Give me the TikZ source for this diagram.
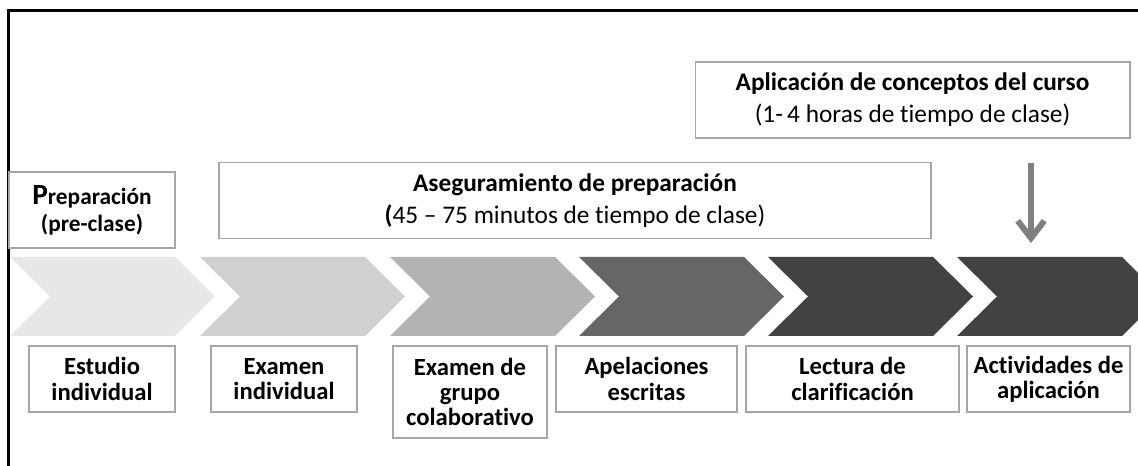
\documentclass[tikz,border=0pt]{standalone}
\usepackage{fontspec}
\setmainfont{Carlito}[Ligatures=NoCommon]
\usepackage{tikz}
\usetikzlibrary{arrows.meta}

\definecolor{chevA}{HTML}{E7E7E7}
\definecolor{chevB}{HTML}{D0D0D0}
\definecolor{chevC}{HTML}{B3B3B3}
\definecolor{chevD}{HTML}{666666}
\definecolor{chevE}{HTML}{424242}
\definecolor{boxgray}{HTML}{A6A6A6}
\definecolor{arrowgray}{HTML}{808080}

\begin{document}
\begin{tikzpicture}[x=0.75pt,y=-0.75pt,
  boxline/.style={draw=boxgray,line width=1pt,fill=white,align=center,inner sep=0pt},
  steplbl/.style={boxline,font=\bfseries\fontsize{18.5}{19}\selectfont,minimum height=49.5pt},
  phase/.style={boxline,font=\fontsize{19}{24}\selectfont,minimum height=57pt}]
\useasboundingbox (0,0) rectangle (1138,466);
\fill[white] (0,0) rectangle (1138,466);
\draw[black,line width=2.25pt] (8,466) -- (8,11) -- (1138,11);

% chevrons
\fill[chevA] (10,257) -- (175,257) -- (215,296.5) -- (175,336) -- (10,336) -- (50,296.5) -- cycle;
\fill[chevB] (200,257) -- (365,257) -- (405,296.5) -- (365,336) -- (200,336) -- (240,296.5) -- cycle;
\fill[chevC] (390,257) -- (555,257) -- (595,296.5) -- (555,336) -- (390,336) -- (430,296.5) -- cycle;
\fill[chevD] (579,257) -- (744,257) -- (784,296.5) -- (744,336) -- (579,336) -- (619,296.5) -- cycle;
\fill[chevE] (768,257) -- (933,257) -- (973,296.5) -- (933,336) -- (768,336) -- (808,296.5) -- cycle;
\fill[chevE] (957,257) -- (1122,257) -- (1162,296.5) -- (1122,336) -- (957,336) -- (997,296.5) -- cycle;

% phases
\node[phase,minimum width=124.5pt,font=\bfseries\fontsize{17.5}{20}\selectfont] (prep) at (92,210) {{\fontsize{22}{20}\selectfont P}reparación\\(pre-clase)};
\node[phase,minimum width=534pt] (aseg) at (575,200.5) {\textbf{Aseguramiento de preparación}\\\textbf{(}45 – 75 minutos de tiempo de clase)};
\node[phase,minimum width=326pt] (aplic) at (912.5,100) {\textbf{Aplicación de conceptos del curso}\\(1-\,4 horas de tiempo de clase)};

\coordinate (arrtop) at (1031,163);
\coordinate (arrtip) at (1031,243);
\draw[arrowgray,line width=4.5pt,-{Straight Barb[length=13pt,width=20pt]}] (arrtop) -- (arrtip);

% steps
\node[steplbl,minimum width=109.5pt] (estudio) at (102,379) {Estudio\\individual};
\node[steplbl,minimum width=109.5pt] (examen) at (284,379) {Examen\\individual};
\node[steplbl,minimum width=115.5pt,minimum height=69pt] (grupo) at (470,392) {Examen de\\grupo\\colaborativo};
\node[steplbl,minimum width=135.75pt] (apel) at (646.5,379) {Apelaciones\\escritas};
\node[steplbl,minimum width=159.75pt] (lect) at (852.5,379) {Lectura de\\clarificación};
\node[steplbl,minimum width=122.25pt] (activ) at (1048.5,379) {Actividades de\\aplicación};

\end{tikzpicture}
\end{document}
